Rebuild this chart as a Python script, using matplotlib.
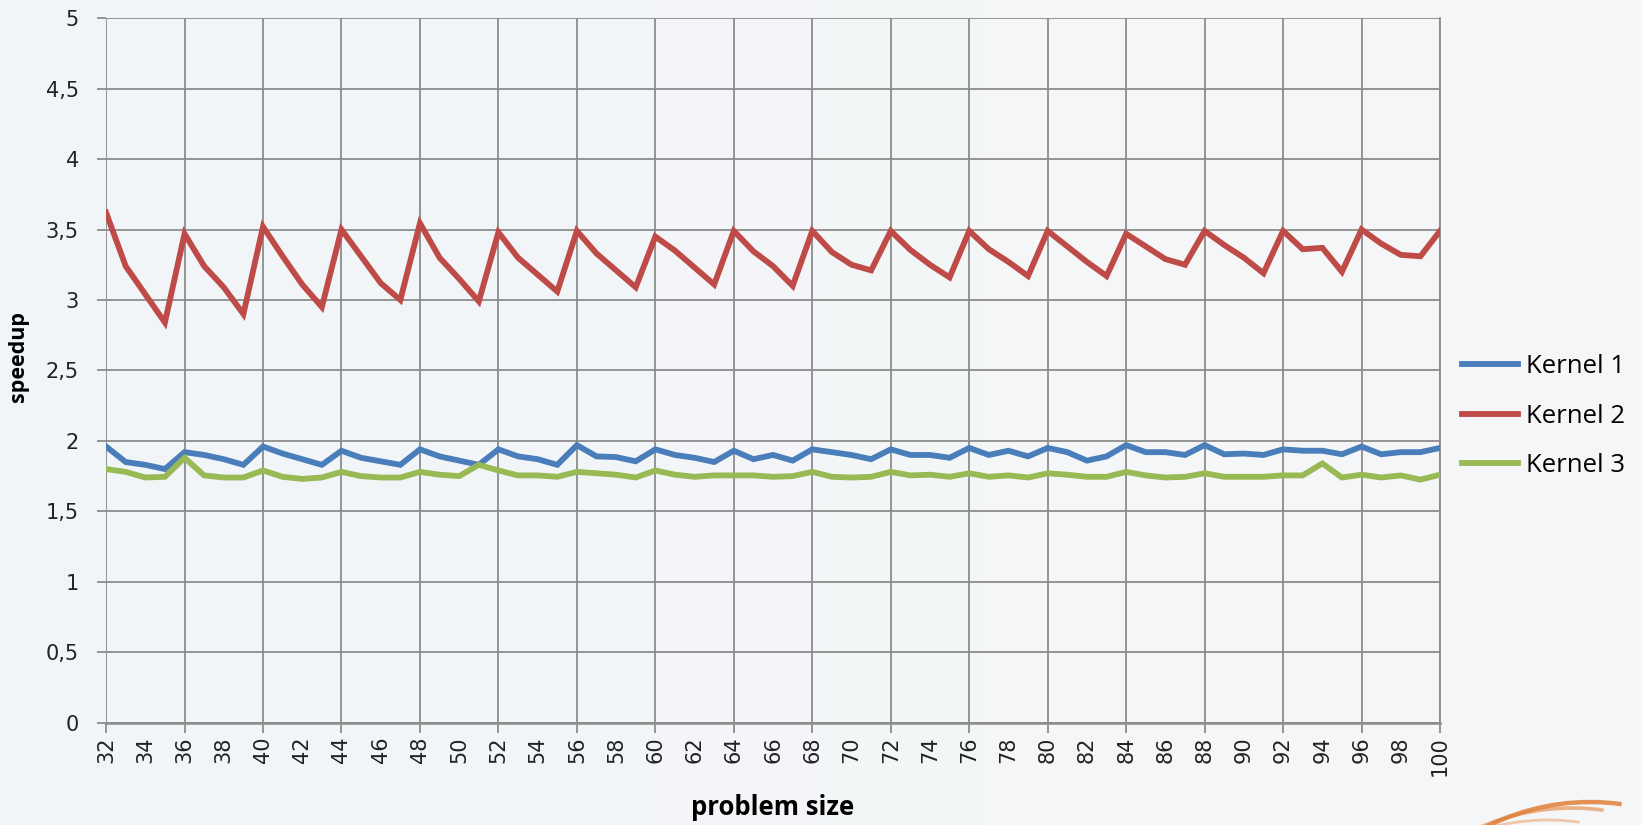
import matplotlib
matplotlib.use("Agg")
import matplotlib.pyplot as plt
from matplotlib.patches import Arc
from matplotlib.ticker import FuncFormatter, MultipleLocator
import numpy as np

problem_size = list(range(32, 101))

kernel1 = [1.96, 1.85, 1.83, 1.80, 1.92, 1.90, 1.87, 1.83, 1.96, 1.91,
           1.87, 1.83, 1.93, 1.88, 1.855, 1.83, 1.94, 1.89, 1.86, 1.83,
           1.94, 1.89, 1.87, 1.83, 1.97, 1.89, 1.885, 1.855, 1.94, 1.90,
           1.88, 1.85, 1.93, 1.87, 1.90, 1.86, 1.94, 1.92, 1.90, 1.87,
           1.94, 1.90, 1.90, 1.88, 1.95, 1.90, 1.93, 1.89, 1.95, 1.92,
           1.86, 1.89, 1.97, 1.92, 1.92, 1.90, 1.97, 1.905, 1.91, 1.90,
           1.94, 1.93, 1.93, 1.905, 1.96, 1.905, 1.92, 1.92, 1.95]

kernel2 = [3.62, 3.24, 3.04, 2.84, 3.47, 3.24, 3.09, 2.90, 3.52, 3.31,
           3.11, 2.95, 3.50, 3.31, 3.12, 3.00, 3.545, 3.30, 3.15, 2.99,
           3.48, 3.30, 3.18, 3.06, 3.49, 3.33, 3.21, 3.09, 3.45, 3.35,
           3.23, 3.11, 3.49, 3.345, 3.24, 3.10, 3.49, 3.34, 3.25, 3.21,
           3.49, 3.355, 3.25, 3.16, 3.49, 3.36, 3.27, 3.17, 3.49, 3.38,
           3.27, 3.17, 3.47, 3.38, 3.29, 3.25, 3.49, 3.39, 3.30, 3.19,
           3.49, 3.36, 3.37, 3.20, 3.50, 3.40, 3.32, 3.31, 3.49]

kernel3 = [1.80, 1.78, 1.74, 1.745, 1.88, 1.755, 1.74, 1.74, 1.79, 1.745,
           1.73, 1.74, 1.78, 1.75, 1.74, 1.74, 1.78, 1.76, 1.75, 1.83,
           1.79, 1.755, 1.755, 1.745, 1.78, 1.77, 1.76, 1.74, 1.79, 1.76,
           1.745, 1.755, 1.755, 1.755, 1.745, 1.75, 1.78, 1.745, 1.74, 1.745,
           1.78, 1.755, 1.76, 1.745, 1.77, 1.745, 1.755, 1.74, 1.77, 1.76,
           1.745, 1.745, 1.78, 1.755, 1.74, 1.745, 1.77, 1.745, 1.745, 1.745,
           1.755, 1.755, 1.84, 1.74, 1.76, 1.74, 1.755, 1.725, 1.76]

series_labels = ["Kernel 1", "Kernel 2", "Kernel 3"]
series_colors = ["#4a7ebb", "#be4b48", "#98b954"]

plt.rcParams["font.family"] = ["Open Sans", "DejaVu Sans"]

fig = plt.figure(figsize=(16.42, 8.25), dpi=100)
fig.patch.set_facecolor("#f3f5f8")

# soft background wash
bg = fig.add_axes([0, 0, 1, 1], zorder=-10)
grad = np.linspace(0, 1, 256)
img = np.outer(np.ones(256), grad)
bg.imshow(img, cmap=matplotlib.colors.LinearSegmentedColormap.from_list(
    "wash", ["#f1f5f9", "#f6f7f7"]), aspect="auto", extent=[0, 1, 0, 1])
bg.set_axis_off()

ax = fig.add_axes([0.0646, 0.124, 0.8124, 0.854])
ax.set_facecolor("none")

for vals, lab, col in zip([kernel1, kernel2, kernel3], series_labels, series_colors):
    ax.plot(problem_size, vals, color=col, lw=4.2, label=lab,
            solid_joinstyle="miter", zorder=3)

ax.set_xlim(32, 100)
ax.set_ylim(0, 5)
ax.yaxis.set_major_locator(MultipleLocator(0.5))
ax.yaxis.set_major_formatter(FuncFormatter(
    lambda v, p: ("%g" % v).replace(".", ",")))
ax.set_xticks(problem_size[::2])
ax.set_xticklabels([str(v) for v in problem_size[::2]], rotation=90)

grid_col = "#8c8c8c"
ax.grid(True, color=grid_col, lw=1.3, zorder=1)
# vertical grid and tick marks only every 4 units
for gl, v in zip(ax.xaxis.get_gridlines(), problem_size[::2]):
    gl.set_visible((v - 32) % 4 == 0)
for tk, v in zip(ax.xaxis.get_major_ticks(), problem_size[::2]):
    tk.tick1line.set_visible((v - 32) % 4 == 0)

for s in ["top", "left"]:
    ax.spines[s].set_visible(False)
ax.spines["right"].set_color(grid_col)
ax.spines["right"].set_linewidth(1.3)
ax.spines["bottom"].set_color(grid_col)
ax.spines["bottom"].set_linewidth(1.8)

ax.tick_params(axis="y", length=6.5, width=1.3, color=grid_col, labelsize=15,
               labelcolor="#222222", pad=13)
ax.tick_params(axis="x", length=7, width=1.3, color=grid_col, labelsize=15,
               labelcolor="#222222", pad=3)
for t in ax.get_yticklabels() + ax.get_xticklabels():
    t.set_fontfamily("DejaVu Sans")
ax.set_axisbelow(True)

ax.set_ylabel("speedup", fontsize=15.5, fontweight="bold")
ax.yaxis.set_label_coords(-0.058, 0.52)
ax.set_xlabel("problem size", fontsize=18.5, fontweight="bold")
ax.xaxis.label.set_verticalalignment("baseline")
ax.xaxis.set_label_coords(0.5, -0.131)

leg = ax.legend(loc="center left", bbox_to_anchor=(0.999, 0.435), frameon=False,
                fontsize=18.5, handlelength=2.2, handletextpad=0.3,
                labelspacing=0.95)
for h in leg.get_lines():
    h.set_linewidth(4.2)

# corner emblem arcs
arc_specs = [((1590, -206), 229, 0.85, 3.2, 86, 125),
             ((1572, -212), 229, 0.6, 2.6, 86, 122),
             ((1548, -224), 229, 0.4, 2.0, 86, 118)]
for (px, py), r, a, w, t1, t2 in arc_specs:
    arc = Arc((px / 1642, py / 825), 2 * r / 1642, 2 * r / 825, theta1=t1,
              theta2=t2, transform=fig.transFigure, color="#e2803a", lw=w,
              alpha=a)
    fig.add_artist(arc)

fig.savefig("out.png", dpi=100, facecolor=fig.get_facecolor())
